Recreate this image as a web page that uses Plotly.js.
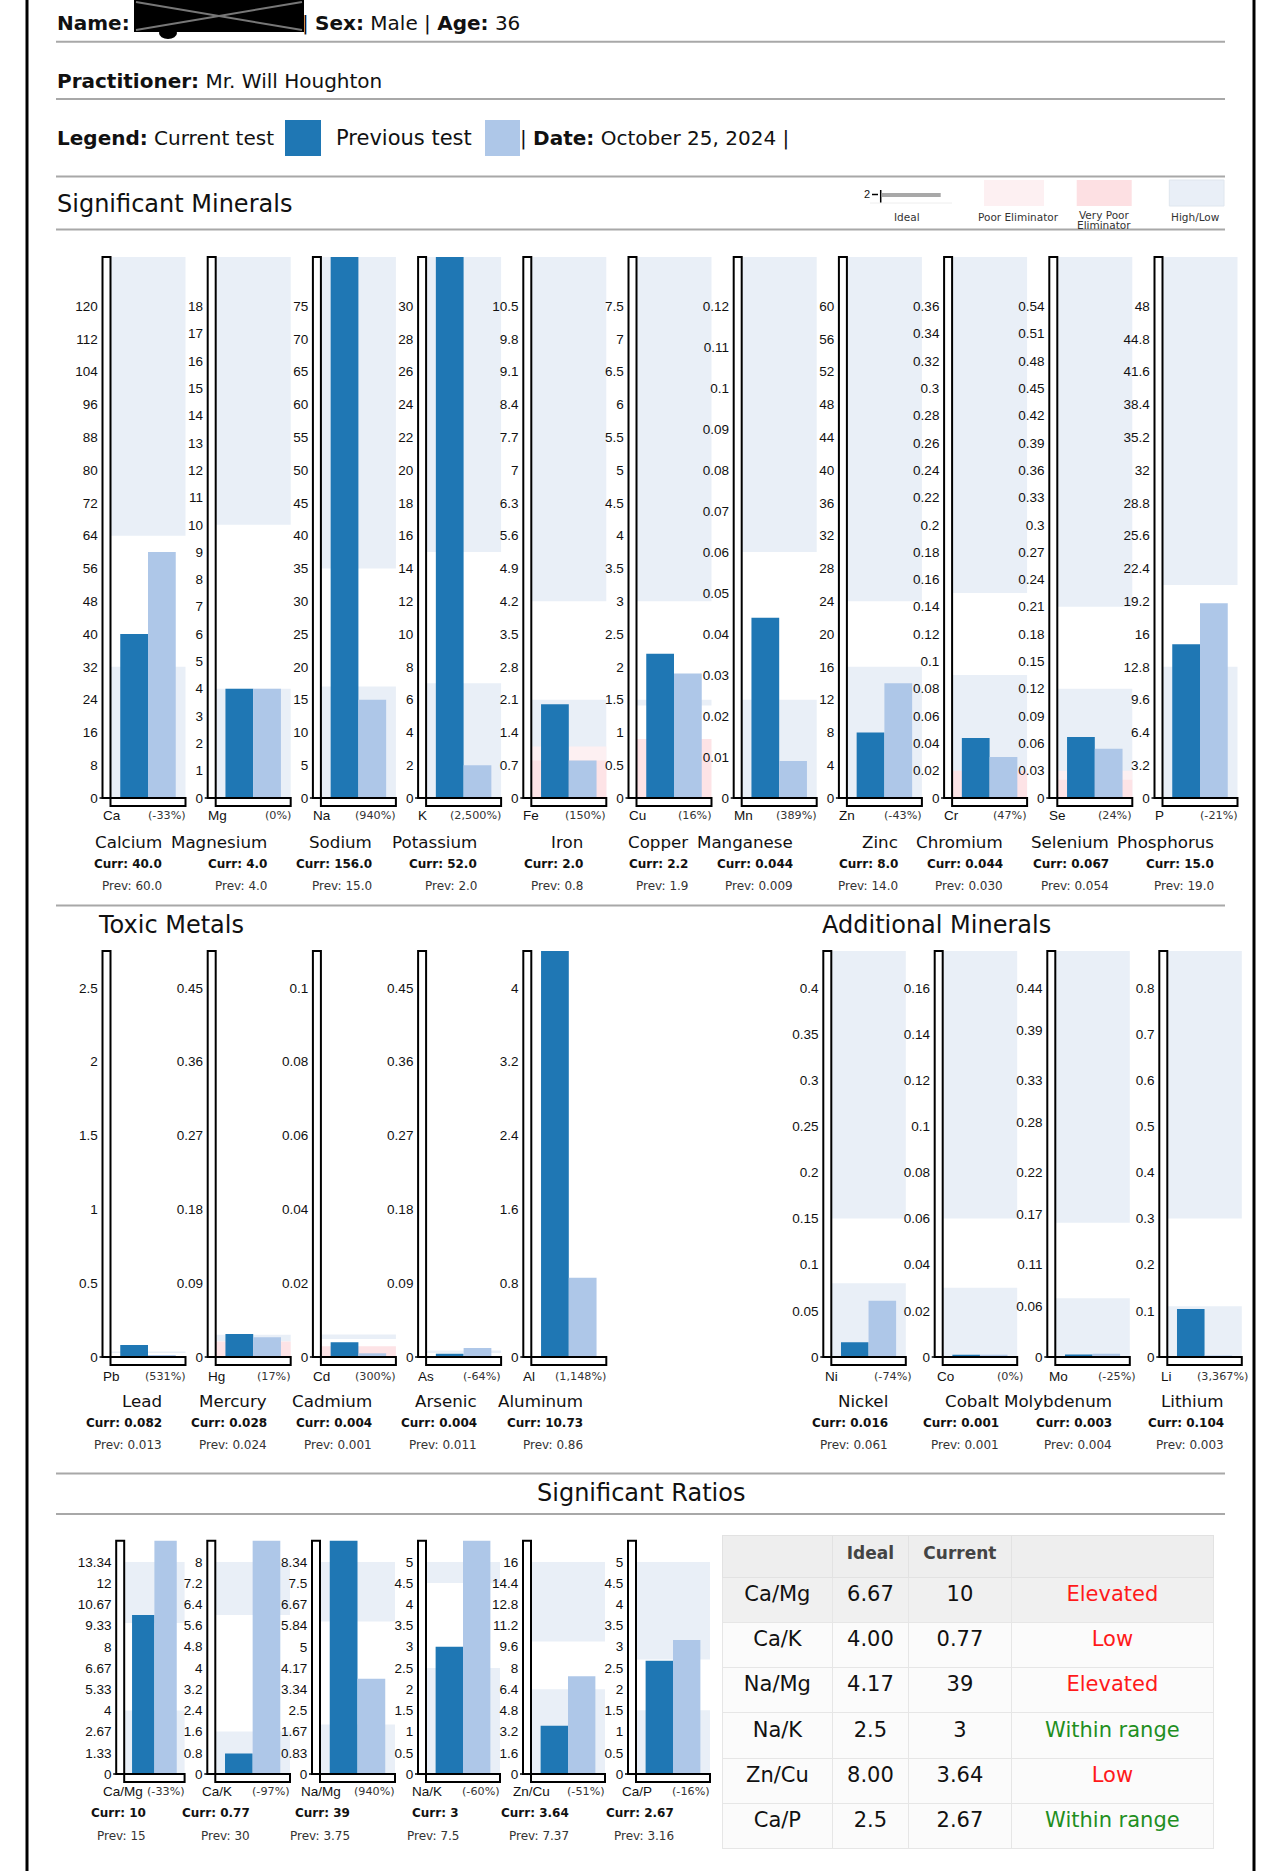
<!DOCTYPE html>
<html><head><meta charset="utf-8">
<script src="https://cdn.plot.ly/plotly-3.0.1.min.js"></script>
<style>html,body{margin:0;padding:0;background:#fff}#chart{width:1280px;height:1871px}</style>
</head><body><div id="chart"></div>
<script>
// ================= DATA =================
const mineralSymbols = ["Ca","Mg","Na","K","Fe","Cu","Mn","Zn","Cr","Se","P"];
const mineralNames = ["Calcium","Magnesium","Sodium","Potassium","Iron","Copper","Manganese","Zinc","Chromium","Selenium","Phosphorus"];
const mineralCurrent = [40.0,4.0,156.0,52.0,2.0,2.2,0.044,8.0,0.044,0.067,15.0];
const mineralPrevious = [60.0,4.0,15.0,2.0,0.8,1.9,0.009,14.0,0.030,0.054,19.0];
const mineralCurrText = ["40.0","4.0","156.0","52.0","2.0","2.2","0.044","8.0","0.044","0.067","15.0"];
const mineralPrevText = ["60.0","4.0","15.0","2.0","0.8","1.9","0.009","14.0","0.030","0.054","19.0"];
const mineralChange = ["(-33%)","(0%)","(940%)","(2,500%)","(150%)","(16%)","(389%)","(-43%)","(47%)","(24%)","(-21%)"];
const mineralTicks = [
  ["0","8","16","24","32","40","48","56","64","72","80","88","96","104","112","120"],
  ["0","1","2","3","4","5","6","7","8","9","10","11","12","13","14","15","16","17","18"],
  ["0","5","10","15","20","25","30","35","40","45","50","55","60","65","70","75"],
  ["0","2","4","6","8","10","12","14","16","18","20","22","24","26","28","30"],
  ["0","0.7","1.4","2.1","2.8","3.5","4.2","4.9","5.6","6.3","7","7.7","8.4","9.1","9.8","10.5"],
  ["0","0.5","1","1.5","2","2.5","3","3.5","4","4.5","5","5.5","6","6.5","7","7.5"],
  ["0","0.01","0.02","0.03","0.04","0.05","0.06","0.07","0.08","0.09","0.1","0.11","0.12"],
  ["0","4","8","12","16","20","24","28","32","36","40","44","48","52","56","60"],
  ["0","0.02","0.04","0.06","0.08","0.1","0.12","0.14","0.16","0.18","0.2","0.22","0.24","0.26","0.28","0.3","0.32","0.34","0.36"],
  ["0","0.03","0.06","0.09","0.12","0.15","0.18","0.21","0.24","0.27","0.3","0.33","0.36","0.39","0.42","0.45","0.48","0.51","0.54"],
  ["0","3.2","6.4","9.6","12.8","16","19.2","22.4","25.6","28.8","32","35.2","38.4","41.6","44.8","48"]
];
const mineralLowBase = [0,0,0,0,0,1.41,0,0,0,0,0];
const mineralLow = [32,4,17,7,2.1,1.5,0.024,16,0.09,0.12,12.8];
const mineralHigh = [64,10,35,15,4.2,3,0.06,24,0.15,0.21,20.8];
const mineralPoor = [0,0,0,0,1.1,0,0,0,0,0.03,0];
const mineralVeryPoor = [0,0,0,0,0.8,0.9,0,0,0.02,0.02,0];

const toxicSymbols = ["Pb","Hg","Cd","As","Al"];
const toxicNames = ["Lead","Mercury","Cadmium","Arsenic","Aluminum"];
const toxicCurrent = [0.082,0.028,0.004,0.004,10.73];
const toxicPrevious = [0.013,0.024,0.001,0.011,0.86];
const toxicCurrText = ["0.082","0.028","0.004","0.004","10.73"];
const toxicPrevText = ["0.013","0.024","0.001","0.011","0.86"];
const toxicChange = ["(531%)","(17%)","(300%)","(-64%)","(1,148%)"];
const toxicTicks = [
  ["0","0.5","1","1.5","2","2.5"],
  ["0","0.09","0.18","0.27","0.36","0.45"],
  ["0","0.02","0.04","0.06","0.08","0.1"],
  ["0","0.09","0.18","0.27","0.36","0.45"],
  ["0","0.8","1.6","2.4","3.2","4"]
];
const toxicLowBase = [0.027,0.019,0.0049,0.0049,0];
const toxicLow = [0.038,0.0272,0.0061,0.008,0];
const toxicVeryPoor = [0,0.019,0.0029,0,0];

const addSymbols = ["Ni","Co","Mo","Li"];
const addNames = ["Nickel","Cobalt","Molybdenum","Lithium"];
const addCurrent = [0.016,0.001,0.003,0.104];
const addPrevious = [0.061,0.001,0.004,0.003];
const addCurrText = ["0.016","0.001","0.003","0.104"];
const addPrevText = ["0.061","0.001","0.004","0.003"];
const addChange = ["(-74%)","(0%)","(-25%)","(3,367%)"];
const addTicks = [
  ["0","0.05","0.1","0.15","0.2","0.25","0.3","0.35","0.4"],
  ["0","0.02","0.04","0.06","0.08","0.1","0.12","0.14","0.16"],
  ["0","0.06","0.11","0.17","0.22","0.28","0.33","0.39","0.44"],
  ["0","0.1","0.2","0.3","0.4","0.5","0.6","0.7","0.8"]
];
const addLow = [0.08,0.03,0.07,0.11];
const addHigh = [0.15,0.06,0.16,0.3];

const ratioSymbols = ["Ca/Mg","Ca/K","Na/Mg","Na/K","Zn/Cu","Ca/P"];
const ratioCurrent = [10,0.77,39,3,3.64,2.67];
const ratioPrevious = [15,30,3.75,7.5,7.37,3.16];
const ratioCurrText = ["10","0.77","39","3","3.64","2.67"];
const ratioPrevText = ["15","30","3.75","7.5","7.37","3.16"];
const ratioChange = ["(-33%)","(-97%)","(940%)","(-60%)","(-51%)","(-16%)"];
const ratioTicks = [
  ["0","1.33","2.67","4","5.33","6.67","8","9.33","10.67","12","13.34"],
  ["0","0.8","1.6","2.4","3.2","4","4.8","5.6","6.4","7.2","8"],
  ["0","0.83","1.67","2.5","3.34","4.17","5","5.84","6.67","7.5","8.34"],
  ["0","0.5","1","1.5","2","2.5","3","3.5","4","4.5","5"],
  ["0","1.6","3.2","4.8","6.4","8","9.6","11.2","12.8","14.4","16"],
  ["0","0.5","1","1.5","2","2.5","3","3.5","4","4.5","5"]
];
const ratioLow = [4,1.6,1.95,2.5,6.4,1.5];
const ratioHigh = [9.5,6,6,4.5,10,2.7];

const tableIdeal = ["6.67","4.00","4.17","2.5","8.00","2.5"];
const tableCurrent = ["10","0.77","39","3","3.64","2.67"];
const tableStatus = ["Elevated","Low","Elevated","Within range","Low","Within range"];

// ================= STYLE / GEOMETRY =================
const W = 1280, H = 1871;
const X = p => p / W, Y = p => 1 - p / H;
const CUR = '#1f77b4', PREV = '#aec7e8', BAND = '#e9eff7', POOR = '#fdf0f2', VPOOR = '#fde3e6';
const TXT = 'DejaVu Sans', NUM = 'Liberation Sans';
const TH = 8; // thermometer width

const mineralL = [102.5,207.7,312.9,418.1,523.3,628.5,733.7,838.9,944.1,1049.3,1154.5];
const addL = [823.3,934.7,1047.3,1159.3];
const ratioL = [116.2,207.3,312,418,523,628];
const ratioR = [184.6,290,395,500,605,710];
const ratioTextRight = [146,250,350,459,569,674];
const ratioSymLeft = [103.4,201.7,301,412,513,621.8];

const traces = [], shapes = [], annotations = [];
const layout = {
  width: W, height: H, margin: {l:0,r:0,t:0,b:0}, paper_bgcolor: '#fff', plot_bgcolor: 'rgba(0,0,0,0)',
  showlegend: false, barmode: 'group', bargap: 0.26, bargroupgap: 0, shapes, annotations
};

function txt(t, x, y, size, o = {}) {
  const ex = o.extra || {};
  const anchor = ex.xanchor || 'left';
  const dx = anchor === 'left' ? -2 : (anchor === 'right' ? 2 : 0);
  annotations.push(Object.assign({
    text: t, x: X(x + dx), y: Y(y), xref: 'paper', yref: 'paper', showarrow: false,
    xanchor: 'left', yanchor: 'middle', align: 'left',
    font: {family: o.family || TXT, size: size, color: o.color || '#111'}
  }, ex));
}
function hline(y, x0, x1, color, w) {
  shapes.push({type:'line', xref:'paper', yref:'paper', x0:X(x0), x1:X(x1), y0:Y(y), y1:Y(y), line:{color, width:w}});
}
function box(x0, y0, x1, y1, fill, lineColor, lw, layer) {
  shapes.push({type:'rect', xref:'paper', yref:'paper', x0:X(x0), x1:X(x1), y0:Y(y1), y1:Y(y0),
    fillcolor: fill, line:{color: lineColor || 'rgba(0,0,0,0)', width: lw || 0}, layer: layer || 'above'});
}

let axN = 0;
function addChart(o) {
  axN++;
  const s = axN === 1 ? '' : String(axN);
  const xa = 'x' + s, ya = 'y' + s;
  const tv = o.ticks.map(Number);
  const tmax = Math.max(...tv);
  const top = tmax * 1.1;
  layout['xaxis' + s] = {domain:[X(o.L + TH), X(o.R)], anchor: ya, showticklabels:false, showgrid:false,
    zeroline:false, showline:false, fixedrange:true, ticks:''};
  layout['yaxis' + s] = {domain:[Y(o.zero), Y(o.top)], anchor: xa, range:[0, top], tickvals: tv, ticktext: o.ticks,
    ticks:'outside', ticklen:9, tickcolor:'rgba(0,0,0,0)', showgrid:false, zeroline:false, showline:false,
    tickfont:{family: NUM, size:13.5, color:'#111'}, fixedrange:true};
  traces.push({type:'bar', x:[o.sym], y:[o.cur], xaxis:xa, yaxis:ya, marker:{color:CUR, line:{width:0}}, hoverinfo:'skip'});
  traces.push({type:'bar', x:[o.sym], y:[o.prev], xaxis:xa, yaxis:ya, marker:{color:PREV, line:{width:0}}, hoverinfo:'skip'});
  const xd = xa + ' domain';
  const band = (y0, y1, c) => shapes.push({type:'rect', xref:xd, yref:ya, x0:0, x1:1, y0, y1, fillcolor:c, line:{width:0}, layer:'below'});
  if (o.low > 0) band(o.lowBase || 0, o.low, BAND);
  if (o.high != null) band(o.high, o.highToTick ? tmax : top, BAND);
  if (o.poor > 0) band(0, o.poor, POOR);
  if (o.vpoor > 0) band(0, o.vpoor, VPOOR);
  // thermometer + bottom box + zero tick
  box(o.L, o.top, o.L + TH, o.zero, '#fff', '#000', 2);
  box(o.L + TH, o.zero, o.R, o.zero + 8, '#fff', '#000', 2);
  hline(o.zero, o.L - 3, o.L, '#000', 1.5);
}

// ================= PAGE FRAME / HEADER =================
shapes.push({type:'line', xref:'paper', yref:'paper', x0:X(27), x1:X(27), y0:0, y1:1, line:{color:'#000', width:3}});
shapes.push({type:'line', xref:'paper', yref:'paper', x0:X(1254), x1:X(1254), y0:0, y1:1, line:{color:'#000', width:3}});
[41.7, 99, 176.5, 229.5, 905.5, 1473.5, 1514].forEach(y => hline(y, 56, 1225, '#a8a8a8', 2));

txt('<b>Name:</b>', 57, 23, 20);
box(134, 0, 304, 32, '#000');
shapes.push({type:'circle', xref:'paper', yref:'paper', x0:X(159), x1:X(177), y0:Y(39), y1:Y(27), fillcolor:'#000', line:{width:0}});
shapes.push({type:'line', xref:'paper', yref:'paper', x0:X(136), x1:X(302), y0:Y(2), y1:Y(30), line:{color:'#777', width:2}});
shapes.push({type:'line', xref:'paper', yref:'paper', x0:X(136), x1:X(302), y0:Y(30), y1:Y(2), line:{color:'#777', width:2}});
txt('| <b>Sex:</b> Male | <b>Age:</b> 36', 302, 23, 20);
txt('<b>Practitioner:</b> Mr. Will Houghton', 57, 81, 20);
txt('<b>Legend:</b> Current test', 57, 138, 20);
box(285, 120, 321, 156, CUR);
txt('Previous test', 335.5, 138, 21);
box(485, 120, 520, 156, PREV);
txt('| <b>Date:</b> October 25, 2024 |', 520, 138, 20);
txt('Significant Minerals', 57, 204, 24);

// mini legend
txt('2', 867, 194, 11, {family: NUM, extra:{xanchor:'center'}});
hline(194.5, 872, 878, '#000', 1.5);
shapes.push({type:'line', xref:'paper', yref:'paper', x0:X(880.7), x1:X(880.7), y0:Y(203), y1:Y(190), line:{color:'#000', width:1.5}});
box(881.7, 193, 940.7, 197, '#a8a8a8');
hline(203, 870, 952, '#eeeeee', 1);
txt('Ideal', 906.7, 216.7, 10.5, {color:'#333', extra:{xanchor:'center'}});
box(984, 180, 1044, 206, POOR);
txt('Poor Eliminator', 1018.3, 216.7, 10.5, {color:'#333', extra:{xanchor:'center'}});
box(1076.7, 180, 1131.7, 206, '#fde0e3');
txt('Very Poor', 1104, 214.5, 10.5, {color:'#333', extra:{xanchor:'center'}});
txt('Eliminator', 1104, 225, 10.5, {color:'#333', extra:{xanchor:'center'}});
box(1169.3, 180, 1224, 206, BAND, '#dfe6ee', 1);
txt('High/Low', 1195.7, 216.7, 10.5, {color:'#333', extra:{xanchor:'center'}});

// ================= SIGNIFICANT MINERALS =================
mineralSymbols.forEach((sym, i) => {
  const L = mineralL[i], R = L + 83;
  addChart({L, R, top:257, zero:798, sym, cur:mineralCurrent[i], prev:mineralPrevious[i], ticks:mineralTicks[i],
    lowBase:mineralLowBase[i], low:mineralLow[i], high:mineralHigh[i], poor:mineralPoor[i], vpoor:mineralVeryPoor[i]});
  txt(sym, L, 815, 13.5, {family: NUM});
  txt(mineralChange[i], R, 815, 11.2, {color:'#333', extra:{xanchor:'right'}});
  const rx = L + 59.2;
  txt(mineralNames[i], rx, 842, 16.7, {extra:{xanchor:'right'}});
  txt('<b>Curr: ' + mineralCurrText[i] + '</b>', rx, 864, 12, {extra:{xanchor:'right'}});
  txt('Prev: ' + mineralPrevText[i], rx, 886, 12, {color:'#333', extra:{xanchor:'right'}});
});

// ================= TOXIC METALS =================
txt('Toxic Metals', 98, 924.6, 24);
toxicSymbols.forEach((sym, i) => {
  const L = mineralL[i], R = L + 83;
  addChart({L, R, top:951, zero:1357, sym, cur:toxicCurrent[i], prev:toxicPrevious[i], ticks:toxicTicks[i],
    lowBase:toxicLowBase[i], low:toxicLow[i], high:null, poor:0, vpoor:toxicVeryPoor[i]});
  txt(sym, L, 1376, 13.5, {family: NUM});
  txt(toxicChange[i], R, 1376, 11.2, {color:'#333', extra:{xanchor:'right'}});
  const rx = L + 59.2;
  txt(toxicNames[i], rx, 1400.7, 16.7, {extra:{xanchor:'right'}});
  txt('<b>Curr: ' + toxicCurrText[i] + '</b>', rx, 1423, 12, {extra:{xanchor:'right'}});
  txt('Prev: ' + toxicPrevText[i], rx, 1445, 12, {color:'#333', extra:{xanchor:'right'}});
});

// ================= ADDITIONAL MINERALS =================
txt('Additional Minerals', 822, 924.6, 24);
addSymbols.forEach((sym, i) => {
  const L = addL[i], R = L + 82.5;
  addChart({L, R, top:951, zero:1357, sym, cur:addCurrent[i], prev:addPrevious[i], ticks:addTicks[i],
    low:addLow[i], high:addHigh[i], poor:0, vpoor:0});
  txt(sym, L + 2, 1376, 13.5, {family: NUM});
  txt(addChange[i], R + 6, 1376, 11.2, {color:'#333', extra:{xanchor:'right'}});
  const rx = L + 64.7;
  txt(addNames[i], rx, 1400.7, 16.7, {extra:{xanchor:'right'}});
  txt('<b>Curr: ' + addCurrText[i] + '</b>', rx, 1423, 12, {extra:{xanchor:'right'}});
  txt('Prev: ' + addPrevText[i], rx, 1445, 12, {color:'#333', extra:{xanchor:'right'}});
});

// ================= SIGNIFICANT RATIOS =================
txt('Significant Ratios', 640.7, 1492.5, 24, {extra:{xanchor:'center'}});
ratioSymbols.forEach((sym, i) => {
  const L = ratioL[i], R = ratioR[i];
  addChart({L, R, top:1540.7, zero:1774, sym, cur:ratioCurrent[i], prev:ratioPrevious[i], ticks:ratioTicks[i],
    low:ratioLow[i], high:ratioHigh[i], highToTick:true, poor:0, vpoor:0});
  txt(sym, ratioSymLeft[i], 1791.7, 13.5, {family: NUM});
  txt(ratioChange[i], R, 1791.7, 11.2, {color:'#333', extra:{xanchor:'right'}});
  txt('<b>Curr: ' + ratioCurrText[i] + '</b>', ratioTextRight[i], 1812.7, 12, {extra:{xanchor:'right'}});
  txt('Prev: ' + ratioPrevText[i], ratioTextRight[i], 1835.7, 12, {color:'#333', extra:{xanchor:'right'}});
});

// ratio table
const rowFill = ratioSymbols.map((_, i) => i === 0 ? '#f0f0f0' : '#fbfbfb');
const statusColor = tableStatus.map(s => s === 'Within range' ? '#1f8f1f' : '#ff1a1a');
traces.push({
  type:'table',
  domain:{x:[X(722.4), X(1213.8)], y:[Y(1850), Y(1535)]},
  columnwidth:[110, 76, 103, 202],
  header:{values:['', '<b>Ideal</b>', '<b>Current</b>', ''], align:'center', height:42,
    fill:{color:'#eeeeee'}, line:{color:'#e2e2e2', width:1}, font:{family:TXT, size:17, color:'#444'}},
  cells:{values:[ratioSymbols, tableIdeal, tableCurrent, tableStatus], align:'center', height:45.3,
    fill:{color:[rowFill, rowFill, rowFill, rowFill]}, line:{color:'#e6e6e6', width:1},
    font:{family:TXT, size:21, color:[ '#111', '#111', '#111', statusColor ]}}
});

Plotly.newPlot('chart', traces, layout, {displayModeBar:false, staticPlot:true});
</script>
</body></html>
